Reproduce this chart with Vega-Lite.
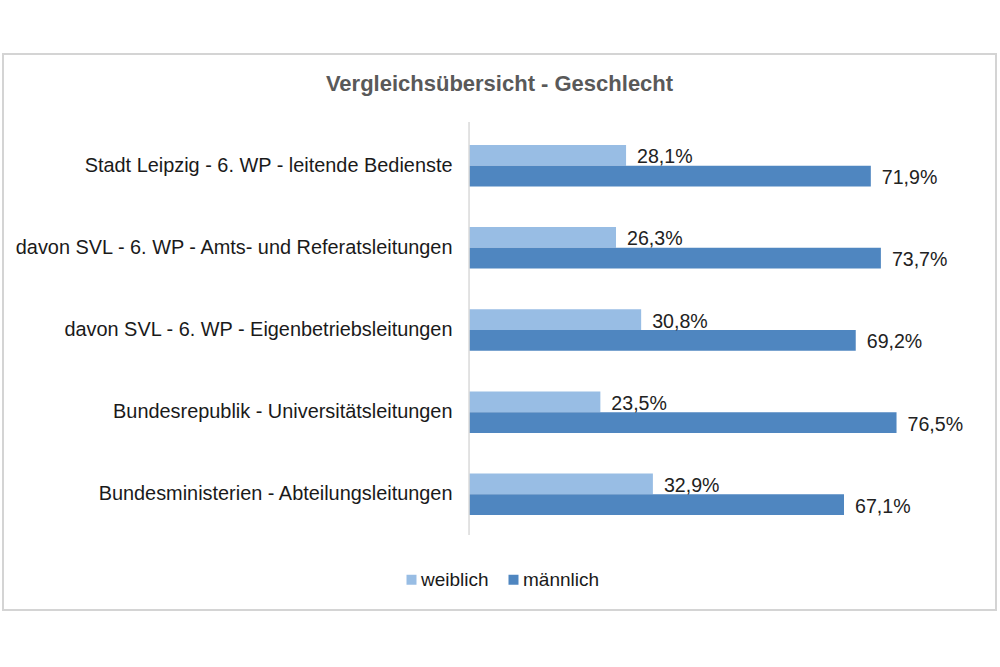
{
  "$schema": "https://vega.github.io/schema/vega-lite/v6.json",
  "width": 993,
  "height": 556,
  "autosize": {"type": "none"},
  "padding": {"left": 3, "top": 54, "right": 4, "bottom": 57},
  "background": "white",
  "config": {
    "font": "Liberation Sans",
    "view": {"stroke": "#D4D4D4", "strokeWidth": 2},
    "locale": {"number": {"decimal": ",", "thousands": ".", "grouping": [3], "currency": ["", " €"]}}
  },
  "title": {
    "text": "Vergleichsübersicht - Geschlecht",
    "fontSize": 22,
    "fontWeight": "bold",
    "color": "#595959",
    "anchor": "middle",
    "offset": -42
  },
  "data": {
    "values": [
      {"kat": "Stadt Leipzig - 6. WP - leitende Bedienste", "geschlecht": "weiblich", "anteil": 0.281},
      {"kat": "Stadt Leipzig - 6. WP - leitende Bedienste", "geschlecht": "männlich", "anteil": 0.719},
      {"kat": "davon SVL - 6. WP - Amts- und Referatsleitungen", "geschlecht": "weiblich", "anteil": 0.263},
      {"kat": "davon SVL - 6. WP - Amts- und Referatsleitungen", "geschlecht": "männlich", "anteil": 0.737},
      {"kat": "davon SVL - 6. WP - Eigenbetriebsleitungen", "geschlecht": "weiblich", "anteil": 0.308},
      {"kat": "davon SVL - 6. WP - Eigenbetriebsleitungen", "geschlecht": "männlich", "anteil": 0.692},
      {"kat": "Bundesrepublik - Universitätsleitungen", "geschlecht": "weiblich", "anteil": 0.235},
      {"kat": "Bundesrepublik - Universitätsleitungen", "geschlecht": "männlich", "anteil": 0.765},
      {"kat": "Bundesministerien - Abteilungsleitungen", "geschlecht": "weiblich", "anteil": 0.329},
      {"kat": "Bundesministerien - Abteilungsleitungen", "geschlecht": "männlich", "anteil": 0.671}
    ]
  },
  "layer": [
    {
      "encoding": {
        "y": {
          "field": "kat",
          "type": "nominal",
          "sort": null,
          "scale": {"paddingInner": 0.495, "paddingOuter": 1, "range": [8.75, 543.25]},
          "axis": {
            "title": null,
            "orient": "left",
            "offset": -466,
            "domain": false,
            "ticks": false,
            "labelPadding": 17,
            "labelFontSize": 19.9,
            "labelColor": "#1a1a1a",
            "labelLimit": 600
          }
        },
        "yOffset": {
          "field": "geschlecht",
          "type": "nominal",
          "sort": ["weiblich", "männlich"]
        },
        "x": {
          "field": "anteil",
          "type": "quantitative",
          "scale": {"domain": [-0.834, 0.943], "nice": false, "zero": false},
          "axis": null
        }
      },
      "layer": [
        {
          "mark": {"type": "bar"},
          "encoding": {
            "color": {
              "field": "geschlecht",
              "type": "nominal",
              "scale": {"domain": ["weiblich", "männlich"], "range": ["#98BDE4", "#4F86C0"]},
              "legend": {
                "title": null,
                "orient": "none",
                "direction": "horizontal",
                "legendX": 399,
                "legendY": 516,
                "symbolType": "square",
                "symbolSize": 100,
                "symbolStrokeWidth": 0,
                "labelFontSize": 19,
                "labelColor": "#1a1a1a",
                "columnPadding": 15,
                "labelOffset": 0
              }
            }
          }
        },
        {
          "mark": {"type": "text", "align": "left", "baseline": "middle", "dx": 11, "dy": 2, "fontSize": 19.6, "color": "#222222"},
          "encoding": {
            "text": {"field": "anteil", "type": "quantitative", "format": ".1%"}
          }
        }
      ]
    },
    {
      "data": {"values": [{"start": 0, "end": 1}]},
      "mark": {"type": "rule", "color": "#D9D9D9", "strokeWidth": 1.5},
      "encoding": {
        "x": {"datum": 0, "type": "quantitative"},
        "y": {"field": "start", "type": "quantitative", "scale": {"domain": [-0.1816, 1.1646], "nice": false, "zero": false}, "axis": null},
        "y2": {"field": "end"}
      }
    }
  ],
  "resolve": {"scale": {"y": "independent"}}
}
